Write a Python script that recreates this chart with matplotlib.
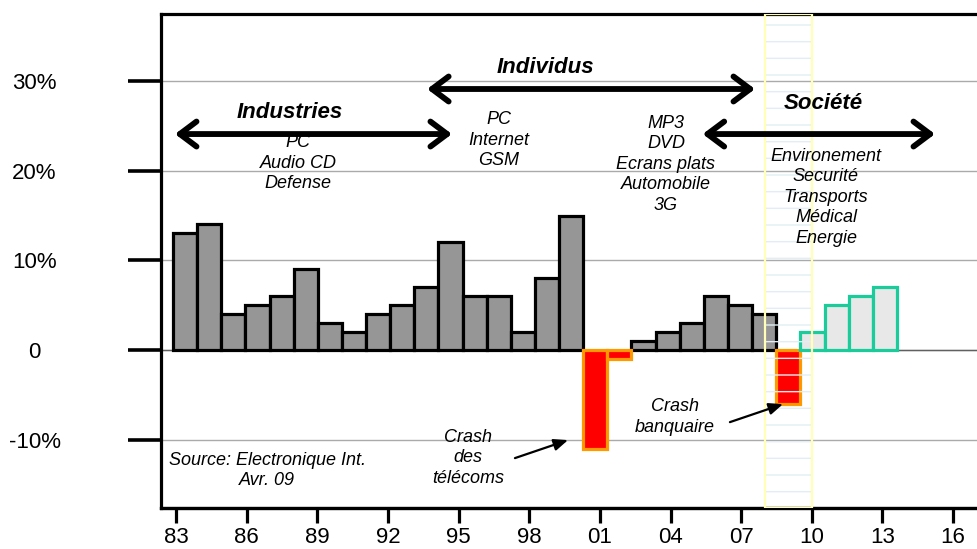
import matplotlib
matplotlib.use('Agg')
import matplotlib.pyplot as plt
from matplotlib.patches import Rectangle

plt.rcParams['font.family'] = ['Liberation Sans', 'DejaVu Sans']

# donnees (croissance annuelle en %)
hist_years = [1983, 1984, 1985, 1986, 1987, 1988, 1989, 1990, 1991, 1992, 1993,
              1994, 1995, 1996, 1997, 1998, 1999,
              2002, 2003, 2004, 2005, 2006, 2007]
hist_vals = [13, 14, 4, 5, 6, 9, 3, 2, 4, 5, 7,
             12, 6, 6, 2, 8, 15,
             1, 2, 3, 6, 5, 4]
crash_years = [2000, 2001, 2008]
crash_vals = [-11, -1, -6]
prev_years = [2009, 2010, 2011, 2012]
prev_vals = [2, 5, 6, 7]

tick_years = [1983, 1986, 1989, 1992, 1995, 1998, 2001, 2004, 2007, 2010, 2013, 2016]
tick_labels = ['83', '86', '89', '92', '95', '98', '01', '04', '07', '10', '13', '16']
y_ticks = [-10, 0, 10, 20, 30]
y_labels = ['-10%', '0', '10%', '20%', '30%']
band_years = (2008, 2010)

first = 1983

# la regle des annees du graphique d'origine est un peu plus serree que les barres
def idx2year(i):
    return first + (24.13 * i - 3.0) / 23.55

def year2idx(y):
    return (3.0 + 23.55 * (y - first)) / 24.13


fig = plt.figure(figsize=(9.78, 5.49), dpi=100)
ax = fig.add_axes([0.1646, 0.0747, 0.8477, 0.8998])

ax.set_xlim(-0.5, 33.86)
ax.set_ylim(-17.6, 37.46)

# barres
ax.bar([y - first for y in hist_years], hist_vals, width=1, align='edge',
       color='#969696', edgecolor='black', linewidth=2.3, zorder=3)
ax.bar([y - first for y in crash_years], crash_vals, width=1, align='edge',
       color='#ff0000', edgecolor='#ff9900', linewidth=2.3, zorder=3)
ax.bar([y - first for y in prev_years], prev_vals, width=1, align='edge',
       color='#e8e8e8', edgecolor='#19cc99', linewidth=2.3, zorder=3)

# grille
ax.set_yticks(y_ticks, labels=y_labels)
ax.grid(axis='y', color='#aaaaaa', lw=1.0)
ax.set_axisbelow(True)
ax.axhline(0, color='#606060', lw=1.0, zorder=2)

ax.tick_params(axis='y', length=24, width=2.6, pad=67, labelsize=16, direction='out')
for lab in ax.get_yticklabels():
    lab.set_ha('center')
ax.tick_params(axis='x', bottom=False, labelbottom=False)

for s in ['left', 'top', 'bottom']:
    ax.spines[s].set_linewidth(2.3)
ax.spines['right'].set_visible(False)

# axe des annees
secax = ax.secondary_xaxis('bottom', functions=(idx2year, year2idx))
secax.set_xticks(tick_years, labels=tick_labels)
secax.tick_params(length=10.5, width=2.3, pad=3.5, labelsize=16, direction='out')
secax.spines['bottom'].set_linewidth(2.3)

# bande de la crise
x0 = year2idx(band_years[0])
x1 = year2idx(band_years[1])
tr = ax.get_xaxis_transform()
ax.add_patch(Rectangle((x0, 0), x1 - x0, 1, transform=tr, facecolor='none',
                       edgecolor='#e2eef3', hatch='-', lw=0, zorder=4))
ax.add_patch(Rectangle((x0, 0), x1 - x0, 1, transform=tr, facecolor='none',
                       edgecolor='#ffffb8', lw=1.6, zorder=4))


def big_arrow(xa, xb, y):
    ax.annotate('', xy=(xb, y), xytext=(xa, y),
                arrowprops=dict(arrowstyle='<->,head_length=0.6,head_width=0.45',
                                lw=4.2, color='black', shrinkA=0, shrinkB=0,
                                mutation_scale=20, capstyle='round', joinstyle='round'),
                zorder=5)


big_arrow(0.08, 11.56, 24.08)
big_arrow(10.53, 24.12, 29.1)
big_arrow(21.95, 31.58, 24.08)

tb = dict(fontsize=16, fontweight='bold', fontstyle='italic', ha='center', va='center', zorder=6)
ax.text(4.85, 26.5, 'Industries', **tb)
ax.text(15.42, 31.55, 'Individus', **tb)
ax.text(26.94, 27.5, 'Société', **tb)

ti = dict(fontsize=13, fontstyle='italic', ha='center', va='center', zorder=6, linespacing=1.27)
ax.text(5.18, 20.85, 'PC\nAudio CD\nDefense', **ti)
ax.text(13.51, 23.4, 'PC\nInternet\nGSM', **ti)
ax.text(20.43, 20.7, 'MP3\nDVD\nEcrans plats\nAutomobile\n3G', **ti)
ax.text(27.06, 17.06, 'Environement\nSecurité\nTransports\nMédical\nEnergie', **ti)
ax.text(3.9, -13.4, 'Source: Electronique Int.\nAvr. 09', **ti)
ax.text(12.23, -12.0, 'Crash\ndes\ntélécoms', **ti)
ax.text(20.8, -7.47, 'Crash\nbanquaire', **ti)

small = dict(arrowstyle='-|>,head_length=0.6,head_width=0.25', lw=1.6, color='black',
             shrinkA=0, shrinkB=0, mutation_scale=14)
ax.annotate('', xy=(16.37, -10.03), xytext=(14.17, -12.04), arrowprops=small, zorder=6)
ax.annotate('', xy=(25.28, -6.02), xytext=(23.08, -8.03), arrowprops=small, zorder=6)

fig.savefig('out.png', dpi=100)
